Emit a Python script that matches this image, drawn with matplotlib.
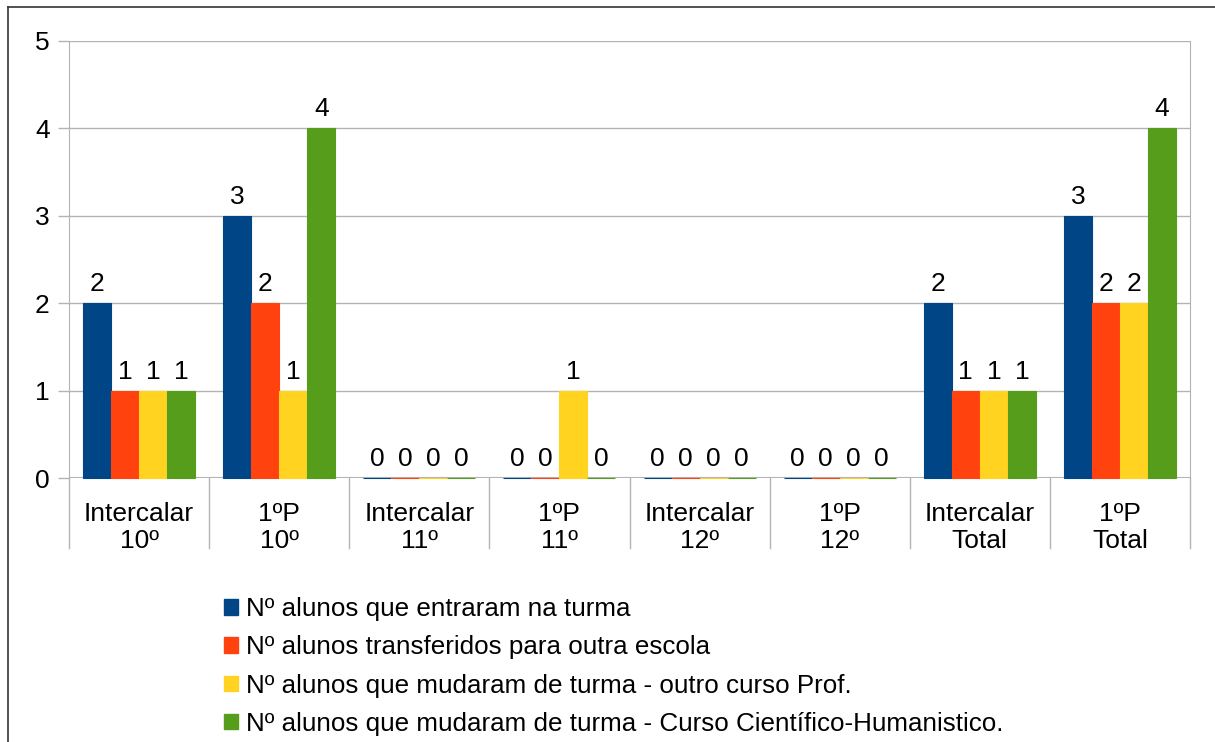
import matplotlib
matplotlib.use("Agg")
import matplotlib.pyplot as plt
import numpy as np
from matplotlib.lines import Line2D
from matplotlib.patches import Patch

plt.rcParams["font.family"] = ["Liberation Sans", "DejaVu Sans"]

categories = ["Intercalar\n10º", "1ºP\n10º", "Intercalar\n11º", "1ºP\n11º",
              "Intercalar\n12º", "1ºP\n12º", "Intercalar\nTotal", "1ºP\nTotal"]
series_names = [
    "Nº alunos que entraram na turma",
    "Nº alunos transferidos para outra escola",
    "Nº alunos que mudaram de turma - outro curso Prof.",
    "Nº alunos que mudaram de turma - Curso Científico-Humanistico.",
]
entraram = [2, 3, 0, 0, 0, 0, 2, 3]
transferidos = [1, 2, 0, 0, 0, 0, 1, 2]
outro_curso = [1, 1, 0, 1, 0, 0, 1, 2]
cientifico = [1, 4, 0, 0, 0, 0, 1, 4]
colors = ["#004586", "#ff420e", "#ffd320", "#579d1c"]

grid_col = "#b3b3b3"
fs = 19

fig = plt.figure(figsize=(12.15, 7.42), dpi=100)
ax = fig.add_axes([69 / 1215, 1 - 478 / 742, (1190 - 69) / 1215, (478 - 41) / 742])

x = np.arange(len(categories))
width = 0.2
all_series = [entraram, transferidos, outro_curso, cientifico]
for i, (vals, col) in enumerate(zip(all_series, colors)):
    pos = x + (i - 1.5) * width
    ax.bar(pos, vals, width, color=col, edgecolor=col, linewidth=0.8, zorder=3, clip_on=False)
    for px, v in zip(pos, vals):
        ax.annotate(str(v), (px, v), xytext=(0, 5), textcoords="offset points",
                    ha="center", va="bottom", fontsize=fs, color="black")

ax.set_xlim(-0.5, len(categories) - 0.5)
ax.set_ylim(0, 5)
ax.set_yticks(range(6))
ax.set_xticks(x)
ax.set_xticklabels(categories, fontsize=fs, linespacing=1.2)
ax.tick_params(axis="x", length=0, pad=17)
ax.tick_params(axis="y", length=8, width=1, color=grid_col, pad=6, labelsize=fs)
ax.grid(axis="y", color=grid_col, linewidth=1, zorder=0)
for side in ["top", "bottom"]:
    ax.spines[side].set_visible(False)
for side in ["left", "right"]:
    ax.spines[side].set_color(grid_col)
ax.axhline(0, color=grid_col, linewidth=1.5, zorder=2)

# category separators below the axis
sep_len = 70 / 437
for b in np.arange(-0.5, len(categories), 1.0):
    ax.plot([b, b], [0, -sep_len], transform=ax.get_xaxis_transform(),
            color=grid_col, linewidth=1, clip_on=False)

handles = [Patch(facecolor=c, edgecolor=c) for c in colors]
fig.legend(handles, series_names, loc="upper left", bbox_to_anchor=(224 / 1215, 1 - 597 / 742),
           frameon=False, fontsize=18.7, handlelength=0.55, handleheight=0.55,
           handletextpad=0.3, labelspacing=0.55, borderaxespad=0, borderpad=0)

# outer border (top and left visible)
fig.add_artist(Line2D([8 / 1215, 1], [1 - 7 / 742, 1 - 7 / 742], color="#333333", linewidth=1.2))
fig.add_artist(Line2D([8 / 1215, 8 / 1215], [0, 1 - 7 / 742], color="#333333", linewidth=1.2))

fig.savefig("out.png", dpi=100)
